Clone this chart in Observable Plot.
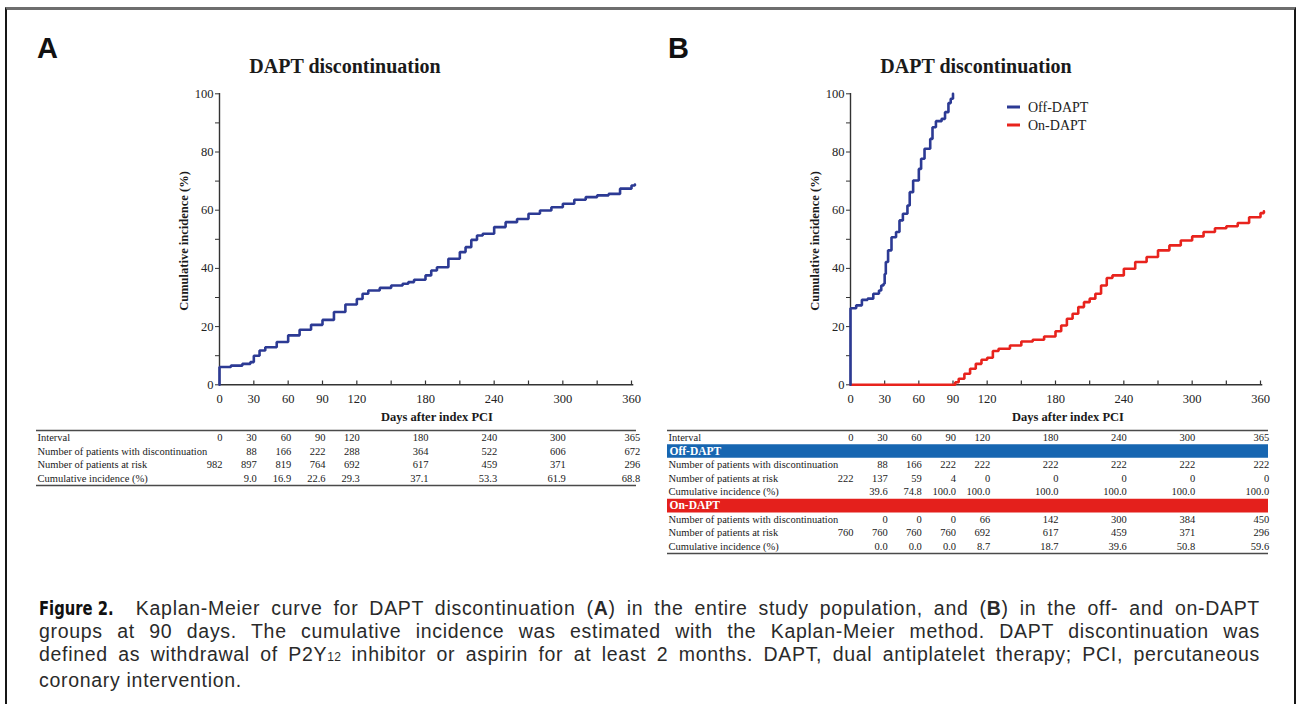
<!DOCTYPE html>
<html><head><meta charset="utf-8">
<script src="https://cdn.jsdelivr.net/npm/d3@7"></script>
<script src="https://cdn.jsdelivr.net/npm/@observablehq/plot@0.6"></script>
<style>
html,body{margin:0;padding:0;background:#fff;}
body{width:1297px;height:704px;position:relative;overflow:hidden;}
#frame{position:absolute;left:5px;top:7px;width:1291px;height:740px;border-top:3px solid #6e6e6e;border-left:2px solid #161616;border-right:2px solid #161616;box-sizing:border-box;}
.panel{position:absolute;top:0;width:660px;height:570px;}
.panel svg{position:absolute;left:0;top:0;overflow:visible;}
#overlay{position:absolute;left:0;top:0;}
#caption{position:absolute;left:39px;top:597px;width:1221px;font-family:"Liberation Sans",Arial,sans-serif;font-size:19.5px;line-height:23px;color:#2a2a2a;letter-spacing:0.7px;}
#caption .ln{text-align:justify;text-align-last:justify;}
#caption .ln.last{text-align:left;text-align-last:left;}
#caption .fig{display:inline-block;transform:scaleX(0.82);transform-origin:0 50%;font-family:"Liberation Sans Narrow","DejaVu Sans Condensed","Liberation Sans",sans-serif;font-weight:bold;font-size:20px;letter-spacing:0;color:#111;margin-right:6px;}
#caption b{font-weight:bold;}
#caption .sub{font-size:12px;letter-spacing:0.3px;}
</style></head>
<body>
<div id="frame"></div>
<div class="panel" id="panelA" style="left:0px"></div>
<div class="panel" id="panelB" style="left:631px"></div>
<div id="caption">
<div class="ln"><span class="fig">Figure 2.</span>Kaplan-Meier curve for DAPT discontinuation (<b>A</b>) in the entire study population, and (<b>B</b>) in the off- and on-DAPT</div>
<div class="ln">groups at 90 days. The cumulative incidence was estimated with the Kaplan-Meier method. DAPT discontinuation was</div>
<div class="ln">defined as withdrawal of P2Y<span class="sub">12</span> inhibitor or aspirin for at least 2 months. DAPT, dual antiplatelet therapy; PCI, percutaneous</div>
<div class="ln last">coronary intervention.</div>
</div>
<script>
// ---------- data ----------
const xTicks = [0, 30, 60, 90, 120, 150, 180, 210, 240, 270, 300, 330, 360];
const xTickLabels = [0, 30, 60, 90, 120, 180, 240, 300, 360];
const yTicks = [0, 10, 20, 30, 40, 50, 60, 70, 80, 90, 100];

// Panel A: entire population
const daysA = [0,0,10,20,27,30,35,40,50,60,70,80,90,100,110,120,125,130,140,150,160,165,170,180,185,190,200,210,215,220,225,230,240,250,260,270,280,290,300,310,320,330,340,350,360,363];
const incA  = [0,6.1,6.6,7.2,7.8,10,11.8,12.9,14.7,17,18.9,20.6,22.3,25,27.6,29.5,31.3,32.4,33.3,34.1,34.7,35.3,36.1,37.6,39.3,40.4,43.3,45.6,47.3,49.8,51.3,51.9,54.2,55.9,57,58.8,59.9,61,62.2,63.6,64.5,65.1,65.6,67.4,68.5,68.8];

// Panel B: Off-DAPT
const daysOff = [0,0,5,10,15,20,25,27,29,30,31,33,36,40,43,46,50,52,55,60,62,65,70,72,75,80,83,86,88,90];
const incOff  = [0,26.3,27.3,29.2,29.6,31.3,32.4,34.1,34.7,38.1,42.2,46.2,50.7,52.5,56.5,58.8,61.6,66.2,70.2,74.2,77.7,81.1,84.5,88.5,90.6,91.4,93.7,96.8,98.3,100];

// Panel B: On-DAPT
const daysOn = [0,91,92,95,100,105,110,115,120,125,130,140,150,160,170,180,185,190,195,200,205,210,215,220,225,230,240,250,260,270,280,290,300,310,320,330,340,350,360,363];
const incOn  = [0,0,0.9,2.1,3.8,5.5,7.2,8.6,9.3,11.6,12.4,13.5,14.9,15.5,16.6,18.4,20.4,22.7,24.4,26.7,28.4,29.6,31.3,34.1,36.7,37.6,39.9,42.2,43.9,46.2,47.9,49.6,51,52.5,53.8,54.5,55.6,57.6,59,59.6];

// Tables
const intervals = [0,30,60,90,120,180,240,300,365];
const aDisc = [null,88,166,222,288,364,522,606,672];
const aRisk = [982,897,819,764,692,617,459,371,296];
const aCum  = [null,9.0,16.9,22.6,29.3,37.1,53.3,61.9,68.8];
const offDisc = [null,88,166,222,222,222,222,222,222];
const offRisk = [222,137,59,4,0,0,0,0,0];
const offCum  = [null,39.6,74.8,100.0,100.0,100.0,100.0,100.0,100.0];
const onDisc = [null,0,0,0,66,142,300,384,450];
const onRisk = [760,760,760,760,692,617,459,371,296];
const onCum  = [null,0.0,0.0,0.0,8.7,18.7,39.6,50.8,59.6];

const rowLabels = {
  interval: "Interval",
  disc: "Number of patients with discontinuation",
  risk: "Number of patients at risk",
  cum: "Cumulative incidence (%)"
};

const BLUE = "#2c3a94", RED = "#e8231d", BAR_BLUE = "#1766b1", BAR_RED = "#e4201c";
const SERIF = "'Liberation Serif','Times New Roman',serif";

// ---------- charts ----------
function chart(cfg) {
  const r1 = cfg.xRange[1];
  return Plot.plot({
    width: 660, height: 430,
    marginLeft: 219, marginTop: 93, marginBottom: 46, marginRight: 660 - r1,
    x: {domain: [0, 362], range: cfg.xRange},
    y: {domain: [0, 100], range: [384.3, 93.3]},
    style: {background: "transparent", fontFamily: SERIF, fontSize: "12.5px", color: "#222", overflow: "visible"},
    marks: [
      Plot.axisY({ticks: yTicks, tickFormat: d => d % 20 === 0 ? String(d) : "", tickSize: 4, tickPadding: 2, label: null, stroke: "#333"}),
      Plot.axisX({ticks: xTickLabels, tickSize: 0, tickPadding: 10, label: null}),
      Plot.ruleX(xTicks, {y1: 0, y2: 1.3, stroke: "#333", strokeWidth: 1.2}),
      Plot.ruleY([0], {stroke: "#333", strokeWidth: 1.4}),
      Plot.ruleX([0], {stroke: "#333", strokeWidth: 1.4}),
      ...cfg.curves.map(c => Plot.line(c.days.map((d, i) => ({d, v: c.inc[i]})), {
        x: "d", y: "v", curve: "step-after", stroke: c.color, strokeWidth: 2.6, strokeLinejoin: "miter"
      }))
    ]
  });
}

function fmt(v, dec) { return v == null ? "" : (dec ? v.toFixed(1) : String(v)); }

function table(cfg) {
  const n = cfg.rows.length;
  const bw = (cfg.yBottom - 430) / n;
  const labelRows = [], barRows = [], cells = [];
  cfg.rows.forEach((r, i) => {
    if (r.bar) { barRows.push({i, label: r.bar, color: r.color}); return; }
    labelRows.push({i, label: r.label});
    r.values.forEach((v, j) => {
      const t = fmt(v, r.dec);
      if (t !== "") cells.push({i, day: intervals[j], t});
    });
  });
  return Plot.plot({
    width: 660, height: 570,
    marginLeft: 36, marginRight: 660 - cfg.right, marginTop: 430, marginBottom: 570 - cfg.yBottom,
    x: {domain: [0, 362], range: cfg.xRange, axis: null},
    y: {domain: [-0.5, n - 0.5], range: [430, cfg.yBottom], axis: null},
    style: {background: "transparent", fontFamily: SERIF, fontSize: "10.5px", color: "#1a1a1a", overflow: "visible"},
    marks: [
      Plot.ruleY(barRows.filter(b => b.color === "blue"), {y: "i", stroke: BAR_BLUE, strokeWidth: bw}),
      Plot.ruleY(barRows.filter(b => b.color === "red"), {y: "i", stroke: BAR_RED, strokeWidth: bw}),
      Plot.ruleY([-0.5, n - 0.5], {stroke: "#4a4a4a", strokeWidth: 1.5}),
      Plot.text(labelRows, {frameAnchor: "left", y: "i", text: "label", textAnchor: "start", dx: 1, fill: "#1a1a1a"}),
      Plot.text(barRows, {frameAnchor: "left", y: "i", text: "label", textAnchor: "start", dx: 2, fill: "white", fontWeight: "bold", fontSize: 11.5}),
      Plot.text(cells, {x: "day", y: "i", text: "t", textAnchor: "end", dx: 3, fill: "#1a1a1a"})
    ]
  });
}

const xRangeA = [219, 219 + 412 * 362 / 360];
const xRangeB = [219, 219 + 410 * 362 / 360];

const pA = document.getElementById("panelA");
pA.appendChild(chart({xRange: xRangeA, curves: [{days: daysA, inc: incA, color: BLUE}]}));
pA.appendChild(table({xRange: xRangeA, right: 636, yBottom: 485, rows: [
  {label: rowLabels.interval, values: intervals},
  {label: rowLabels.disc, values: aDisc},
  {label: rowLabels.risk, values: aRisk},
  {label: rowLabels.cum, values: aCum, dec: true}
]}));

const pB = document.getElementById("panelB");
pB.appendChild(chart({xRange: xRangeB, curves: [
  {days: daysOn, inc: incOn, color: RED},
  {days: daysOff, inc: incOff, color: BLUE}
]}));
pB.appendChild(table({xRange: xRangeB, right: 637, yBottom: 553, rows: [
  {label: rowLabels.interval, values: intervals},
  {bar: "Off-DAPT", color: "blue"},
  {label: rowLabels.disc, values: offDisc},
  {label: rowLabels.risk, values: offRisk},
  {label: rowLabels.cum, values: offCum, dec: true},
  {bar: "On-DAPT", color: "red"},
  {label: rowLabels.disc, values: onDisc},
  {label: rowLabels.risk, values: onRisk},
  {label: rowLabels.cum, values: onCum, dec: true}
]}));

// ---------- overlay text ----------
const svg = d3.select("body").append("svg").attr("id", "overlay").attr("width", 1297).attr("height", 704);
const panels = [{off: 0, letter: "A", title: "DAPT discontinuation"}, {off: 631, letter: "B", title: "DAPT discontinuation"}];
panels.forEach(p => {
  svg.append("text").attr("x", 37 + p.off).attr("y", 58).text(p.letter)
    .attr("font-family", "'Liberation Sans',Arial,sans-serif").attr("font-weight", "bold").attr("font-size", 29).attr("fill", "#111");
  svg.append("text").attr("x", 345 + p.off).attr("y", 73).text(p.title).attr("text-anchor", "middle")
    .attr("font-family", SERIF).attr("font-weight", "bold").attr("font-size", 20).attr("fill", "#1a1a1a");
  svg.append("text").attr("transform", `translate(${188 + p.off},241) rotate(-90)`).text("Cumulative incidence (%)")
    .attr("text-anchor", "middle").attr("font-family", SERIF).attr("font-weight", "bold").attr("font-size", 12.5).attr("fill", "#1a1a1a");
  svg.append("text").attr("x", 437 + p.off).attr("y", 421).text("Days after index PCI").attr("text-anchor", "middle")
    .attr("font-family", SERIF).attr("font-weight", "bold").attr("font-size", 12.5).attr("fill", "#1a1a1a");
});
const legend = [{label: "Off-DAPT", color: BLUE, y: 107}, {label: "On-DAPT", color: RED, y: 125}];
legend.forEach(l => {
  svg.append("line").attr("x1", 1007).attr("x2", 1020).attr("y1", l.y).attr("y2", l.y).attr("stroke", l.color).attr("stroke-width", 3);
  svg.append("text").attr("x", 1028).attr("y", l.y + 4.8).text(l.label)
    .attr("font-family", SERIF).attr("font-size", 14).attr("fill", "#222");
});
</script>
</body></html>
